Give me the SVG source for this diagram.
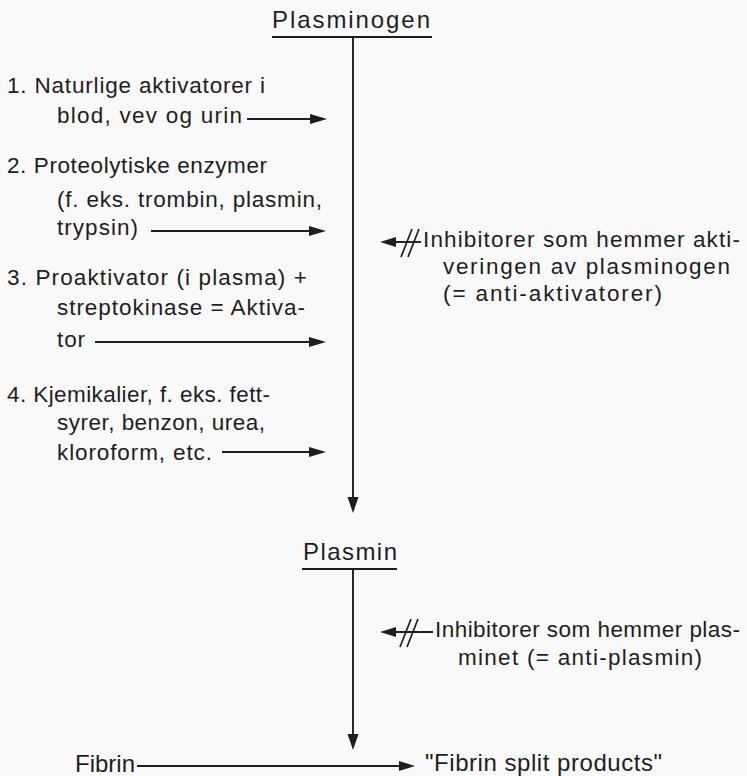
<svg xmlns="http://www.w3.org/2000/svg" width="747" height="776" viewBox="0 0 747 776">
<style>
text{font-family:"Liberation Sans",Arial,sans-serif;font-size:22.5px;fill:#1e1e1e}
.h{font-size:24px}
.ln{stroke:#1e1e1e;stroke-width:1.9;fill:none}
.sl{stroke:#1e1e1e;stroke-width:1.7;fill:none}
.hd{fill:#1e1e1e}
</style>
<rect width="747" height="776" fill="#f9f9f9"/>
<g id="plasminogen">
<text class="h" x="272" y="28" textLength="158" lengthAdjust="spacing">Plasminogen</text>
<line class="ln" x1="272" y1="37" x2="432" y2="37"/>
</g>
<g id="activator1">
<text x="7" y="93" textLength="258" lengthAdjust="spacing">1. Naturlige aktivatorer i</text>
<text x="57" y="123" textLength="185" lengthAdjust="spacing">blod, vev og urin</text>
</g>
<g id="activator2">
<text x="7" y="173" textLength="260" lengthAdjust="spacing">2. Proteolytiske enzymer</text>
<text x="57" y="207" textLength="265" lengthAdjust="spacing">(f. eks. trombin, plasmin,</text>
<text x="57" y="235" textLength="81" lengthAdjust="spacing">trypsin)</text>
</g>
<g id="activator3">
<text x="7" y="285" textLength="300" lengthAdjust="spacing">3. Proaktivator (i plasma) +</text>
<text x="57" y="315" textLength="248" lengthAdjust="spacing">streptokinase = Aktiva-</text>
<text x="57" y="347" textLength="28" lengthAdjust="spacing">tor</text>
</g>
<g id="activator4">
<text x="7" y="402" textLength="263" lengthAdjust="spacing">4. Kjemikalier, f. eks. fett-</text>
<text x="57" y="430" textLength="208" lengthAdjust="spacing">syrer, benzon, urea,</text>
<text x="57" y="460" textLength="155" lengthAdjust="spacing">kloroform, etc.</text>
</g>
<g id="antiactivators">
<text x="423" y="247" textLength="317" lengthAdjust="spacing">Inhibitorer som hemmer akti-</text>
<text x="443" y="274" textLength="287" lengthAdjust="spacing">veringen av plasminogen</text>
<text x="443" y="301" textLength="219" lengthAdjust="spacing">(= anti-aktivatorer)</text>
</g>
<g id="plasmin">
<text class="h" x="303" y="560" textLength="94" lengthAdjust="spacing">Plasmin</text>
<line class="ln" x1="302" y1="569" x2="397" y2="569"/>
</g>
<g id="antiplasmin">
<text x="435" y="637" textLength="305" lengthAdjust="spacing">Inhibitorer som hemmer plas-</text>
<text x="458" y="665" textLength="244" lengthAdjust="spacing">minet (= anti-plasmin)</text>
</g>
<g id="fibrin">
<text class="h" x="75" y="772" textLength="60" lengthAdjust="spacing">Fibrin</text>
</g>
<g id="products">
<text class="h" x="425" y="771" textLength="237" lengthAdjust="spacing">"Fibrin split products"</text>
</g>
<g id="connectors">
<line class="ln" x1="353" y1="37" x2="353" y2="500"/>
<polygon class="hd" points="347.5,497 358.5,497 353,513"/>
<line class="ln" x1="353" y1="569" x2="353" y2="737"/>
<polygon class="hd" points="347.5,734 358.5,734 353,750"/>
<line class="ln" x1="137" y1="766" x2="402" y2="766"/>
<polygon class="hd" points="399,761 399,771 415,766"/>
<line class="ln" x1="247" y1="119" x2="312" y2="119"/>
<polygon class="hd" points="310,114 310,124 327,119"/>
<line class="ln" x1="151" y1="231" x2="311" y2="231"/>
<polygon class="hd" points="309,226 309,236 326,231"/>
<line class="ln" x1="95" y1="342" x2="311" y2="342"/>
<polygon class="hd" points="309,337 309,347 326,342"/>
<line class="ln" x1="222" y1="452" x2="311" y2="452"/>
<polygon class="hd" points="309,447 309,457 326,452"/>
<line class="ln" x1="392" y1="242" x2="421" y2="242"/>
<polygon class="hd" points="396,237 396,247 380,242"/>
<line class="sl" x1="401" y1="257" x2="412" y2="229"/>
<line class="sl" x1="408" y1="257" x2="419" y2="229"/>
<line class="ln" x1="392" y1="632" x2="433" y2="632"/>
<polygon class="hd" points="396,627 396,637 380,632"/>
<line class="sl" x1="400" y1="647" x2="411" y2="619"/>
<line class="sl" x1="407" y1="647" x2="418" y2="619"/>
</g>
</svg>
